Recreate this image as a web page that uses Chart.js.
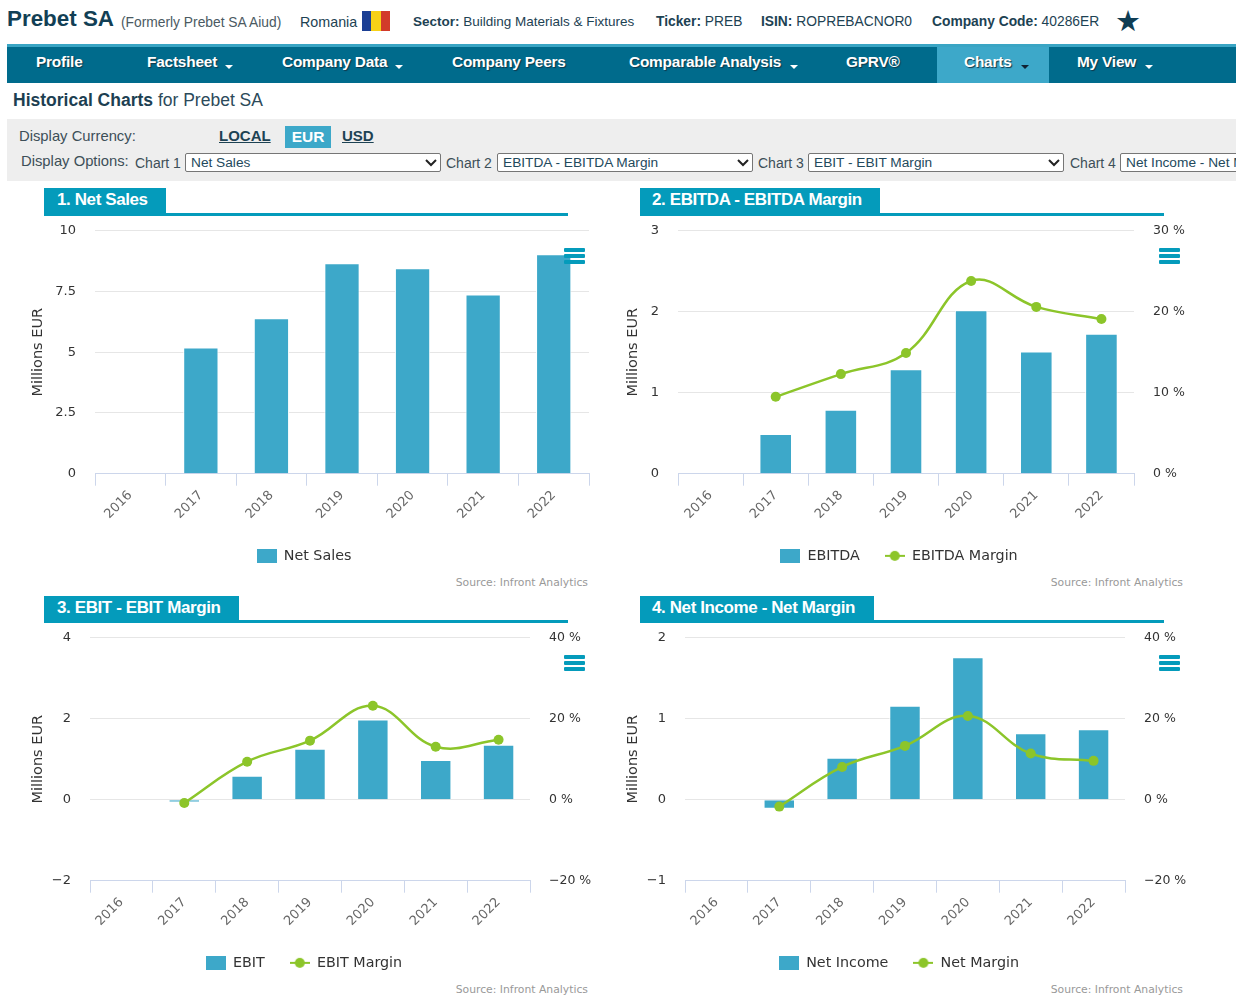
<!DOCTYPE html>
<html><head><meta charset="utf-8"><title>Prebet SA Historical Charts</title>
<script src="https://cdn.jsdelivr.net/npm/chart.js@4"></script>
<style>
html,body{margin:0;padding:0;background:#fff;width:1236px;height:996px;overflow:hidden;font-family:"Liberation Sans",Arial,sans-serif;color:#23495c}
.a{position:absolute;white-space:nowrap}
.h{font-size:13.8px;top:14px;color:#1d4253}
.nav{left:7px;top:44px;width:1229px;height:39px;background:#006b8c;box-sizing:border-box;border-top:3px solid #3aa5c4}
.n{top:53px;color:#fff;font-weight:bold;font-size:15.4px;letter-spacing:-.2px;text-shadow:1px 1px 1px #10384a}
.car{position:absolute;width:0;height:0;border-left:4px solid transparent;border-right:4px solid transparent;border-top:4px solid #fff;top:65px}
.tab{background:#049bbb;color:#fff;font-weight:bold;font-size:17px;letter-spacing:-.4px;height:27px;line-height:24px;box-sizing:border-box;padding-left:13px}
.rule{background:#049bbb;height:3px;width:524px}
.lbl{font-size:14.8px;color:#3d4f58}
select{position:absolute;top:153px;height:19px;width:256px;padding:0 0 0 5px;font:13.7px "Liberation Sans",Arial,sans-serif;color:#23495c;border:1px solid #767676;border-radius:2px;box-sizing:border-box;appearance:none;-webkit-appearance:none;
background:#fff url("data:image/svg+xml,%3Csvg xmlns='http://www.w3.org/2000/svg' width='12' height='8'%3E%3Cpath d='M1 1l5 5 5-5' fill='none' stroke='%23222' stroke-width='2'/%3E%3C/svg%3E") no-repeat right 3px center}
canvas{position:absolute}
.src{font:10.8px "DejaVu Sans",sans-serif;color:#999;text-align:right;width:140px}
.menu{position:absolute;width:21px;height:4px;background:#049bbb;border-radius:1px}
</style></head><body>

<div class="a" style="left:7px;top:6px;font-size:22.4px;font-weight:bold;color:#123f55">Prebet SA</div>
<div class="a h" style="left:121px;top:15px;color:#4b5a62">(Formerly Prebet SA Aiud)</div>
<div class="a h" style="left:300px;font-size:14.3px">Romania</div>
<div class="a" style="left:362px;top:11px;width:9px;height:20px;background:#1c3f94"></div>
<div class="a" style="left:371px;top:11px;width:10px;height:20px;background:#f7d116"></div>
<div class="a" style="left:381px;top:11px;width:9px;height:20px;background:#d23a2a"></div>
<div class="a h" style="left:413px;font-size:13.5px"><b>Sector:</b> Building Materials &amp; Fixtures</div>
<div class="a h" style="left:656px"><b>Ticker:</b> PREB</div>
<div class="a h" style="left:761px"><b>ISIN:</b> ROPREBACNOR0</div>
<div class="a h" style="left:932px"><b>Company Code:</b> 40286ER</div>
<div class="a" style="left:1115px;top:3px;font-size:29px;line-height:36px;color:#0f3d54">★</div>

<div class="a nav"></div>
<div class="a" style="left:937px;top:47px;width:112px;height:36px;background:#3da8c9"></div>
<div class="a n" style="left:36px">Profile</div>
<div class="a n" style="left:147px">Factsheet</div><div class="car" style="left:225px"></div>
<div class="a n" style="left:282px">Company Data</div><div class="car" style="left:395px"></div>
<div class="a n" style="left:452px">Company Peers</div>
<div class="a n" style="left:629px">Comparable Analysis</div><div class="car" style="left:790px"></div>
<div class="a n" style="left:846px">GPRV®</div>
<div class="a n" style="left:964px">Charts</div><div class="car" style="left:1021px;border-top-color:#123"></div>
<div class="a n" style="left:1077px">My View</div><div class="car" style="left:1145px"></div>

<div class="a" style="left:13px;top:90px;font-size:17.5px;color:#2c4a5a"><b style="color:#1d3f52">Historical Charts</b> for Prebet SA</div>

<div class="a" style="left:7px;top:119px;width:1229px;height:62px;background:#eeeeee"></div>
<div class="a lbl" style="left:19px;top:128px">Display Currency:</div>
<div class="a" style="left:219px;top:127px;font-size:15px;font-weight:bold;text-decoration:underline;color:#1d4253">LOCAL</div>
<div class="a" style="left:285px;top:126px;width:46px;height:22px;line-height:21px;text-align:center;background:#3da8c9;color:#fff;font-size:15.5px;font-weight:bold">EUR</div>
<div class="a" style="left:342px;top:127px;font-size:15px;font-weight:bold;text-decoration:underline;color:#1d4253">USD</div>
<div class="a lbl" style="left:21px;top:153px">Display Options:</div>
<div class="a lbl" style="left:135px;top:155px;font-size:14px">Chart 1</div>
<select style="left:185px"><option>Net Sales</option></select>
<div class="a lbl" style="left:446px;top:155px;font-size:14px">Chart 2</div>
<select style="left:497px"><option>EBITDA - EBITDA Margin</option></select>
<div class="a lbl" style="left:758px;top:155px;font-size:14px">Chart 3</div>
<select style="left:808px"><option>EBIT - EBIT Margin</option></select>
<div class="a lbl" style="left:1070px;top:155px;font-size:14px">Chart 4</div>
<select style="left:1120px"><option>Net Income - Net Margin</option></select>

<div class="a rule" style="left:44px;top:213px"></div>
<div class="a tab" style="left:44px;top:188px;width:122px">1. Net Sales</div>
<div class="a rule" style="left:640px;top:213px"></div>
<div class="a tab" style="left:640px;top:188px;width:240px;padding-left:12px">2. EBITDA - EBITDA Margin</div>
<div class="a rule" style="left:44px;top:620px"></div>
<div class="a tab" style="left:44px;top:596px;width:195px">3. EBIT - EBIT Margin</div>
<div class="a rule" style="left:640px;top:620px"></div>
<div class="a tab" style="left:640px;top:596px;width:234px;padding-left:12px">4. Net Income - Net Margin</div>

<canvas id="c1" width="594" height="369" style="left:7px;top:204px"></canvas>
<canvas id="c2" width="594" height="369" style="left:602px;top:204px"></canvas>
<canvas id="c3" width="594" height="369" style="left:7px;top:611px"></canvas>
<canvas id="c4" width="594" height="369" style="left:602px;top:611px"></canvas>

<div class="a src" style="left:448px;top:576px">Source: Infront Analytics</div>
<div class="a src" style="left:1043px;top:576px">Source: Infront Analytics</div>
<div class="a src" style="left:448px;top:983px">Source: Infront Analytics</div>
<div class="a src" style="left:1043px;top:983px">Source: Infront Analytics</div>

<div class="menu" style="left:564px;top:248px"></div><div class="menu" style="left:564px;top:254px"></div><div class="menu" style="left:564px;top:260px"></div>
<div class="menu" style="left:1159px;top:248px"></div><div class="menu" style="left:1159px;top:254px"></div><div class="menu" style="left:1159px;top:260px"></div>
<div class="menu" style="left:564px;top:655px"></div><div class="menu" style="left:564px;top:661px"></div><div class="menu" style="left:564px;top:667px"></div>
<div class="menu" style="left:1159px;top:655px"></div><div class="menu" style="left:1159px;top:661px"></div><div class="menu" style="left:1159px;top:667px"></div>

<script>
const years = ["2016","2017","2018","2019","2020","2021","2022"];
const netSales = [null,5.2,6.4,8.66,8.46,7.38,9.03];
const ebitda = [null,0.49,0.79,1.29,2.02,1.51,1.73];
const ebitdaMargin = [null,9.5,12.3,14.9,23.8,20.6,19.1];
const ebit = [null,-0.07,0.59,1.26,1.98,0.98,1.36];
const ebitMargin = [null,-0.8,9.4,14.6,23.2,13.1,14.8];
const netIncome = [null,-0.11,0.52,1.16,1.76,0.82,0.87];
const netMargin = [null,-1.7,8.1,13.3,20.7,11.4,9.6];

const BAR = "#3da8c9", GREEN = "#8cc52a", FONT = '"DejaVu Sans", sans-serif';

function symbol(kind){
  const c = document.createElement("canvas"); c.width = 20; c.height = 14;
  const g = c.getContext("2d");
  if(kind === "bar"){ g.fillStyle = BAR; g.fillRect(0,0,20,14); }
  else { g.strokeStyle = GREEN; g.lineWidth = 2; g.beginPath(); g.moveTo(0,7); g.lineTo(20,7); g.stroke();
         g.fillStyle = GREEN; g.beginPath(); g.arc(10,7,5,0,Math.PI*2); g.fill(); }
  return c;
}
const fmt = v => String(v).replace("-","\u2212");

function build(id, o){
  const datasets = [{type:"bar", label:o.barName, data:o.bars, backgroundColor:BAR, borderColor:"#fff", borderWidth:1,
                     categoryPercentage:1, barPercentage:0.5, yAxisID:"y", order:2}];
  if(o.lineName) datasets.push({type:"line", label:o.lineName, data:o.line, borderColor:GREEN, backgroundColor:GREEN,
      borderWidth:2.5, tension:0.4, pointRadius:5, pointBorderWidth:0, pointBackgroundColor:GREEN, yAxisID:"y1", order:1});
  const scales = {
    x:{ grid:{drawOnChartArea:false, offset:true, drawTicks:true, tickLength:12, tickColor:"#ccd6eb"},
        border:{color:"#ccd6eb"},
        ticks:{minRotation:45, maxRotation:45, autoSkip:false, padding:2, color:"#666", font:{family:FONT,size:13}},
        afterFit:s=>{s.height = 50;} },
    y:{ position:"left", min:o.yMin, max:o.yMax, grid:{color:"#e6e6e6", drawTicks:false}, border:{display:false},
        ticks:{stepSize:o.yStep, padding:19, color:"#333", font:{family:FONT,size:13}, callback:fmt},
        title:{display:true, text:"Millions EUR", color:"#333", font:{family:FONT,size:14.5}, padding:{top:o.titlePad,bottom:0}},
        afterFit:s=>{s.width = o.left;} }
  };
  if(o.lineName) scales.y1 = { position:"right", min:o.rMin, max:o.rMax, grid:{drawOnChartArea:false, drawTicks:false}, border:{display:false},
        ticks:{stepSize:o.rStep, padding:19, color:"#333", font:{family:FONT,size:12.5}, callback:v=>fmt(v)+" %"},
        afterFit:s=>{s.width = o.right;} };
  new Chart(document.getElementById(id), {
    data:{labels:years, datasets},
    options:{
      responsive:false, animation:false,
      layout:{autoPadding:false, padding:{top:10, left:o.pad||0, right:o.pad||0, bottom:0}},
      scales,
      plugins:{ tooltip:{enabled:false}, title:{display:false},
        legend:{ display:true, position:"bottom", align:"center",
          labels:{ usePointStyle:true, pointStyleWidth:20, boxHeight:14, padding:25, color:"#333",
                   font:{family:FONT,size:14.3},
                   generateLabels:ch=>ch.data.datasets.map((d,i)=>({text:d.label, datasetIndex:i, fontColor:"#333",
                     pointStyle:symbol(d.type), lineWidth:0, hidden:false})) } } }
    }
  });
}
build("c1",{barName:"Net Sales", bars:netSales, yMin:0,yMax:10,yStep:2.5, left:76,right:0,pad:12,titlePad:11});
build("c2",{barName:"EBITDA", bars:ebitda, lineName:"EBITDA Margin", line:ebitdaMargin, yMin:0,yMax:3,yStep:1, rMin:0,rMax:30,rStep:10, left:76,right:62,titlePad:23});
build("c3",{barName:"EBIT", bars:ebit, lineName:"EBIT Margin", line:ebitMargin, yMin:-2,yMax:4,yStep:2, rMin:-20,rMax:40,rStep:20, left:83,right:71,titlePad:23});
build("c4",{barName:"Net Income", bars:netIncome, lineName:"Net Margin", line:netMargin, yMin:-1,yMax:2,yStep:1, rMin:-20,rMax:40,rStep:20, left:83,right:71,titlePad:23});
</script>
</body></html>
